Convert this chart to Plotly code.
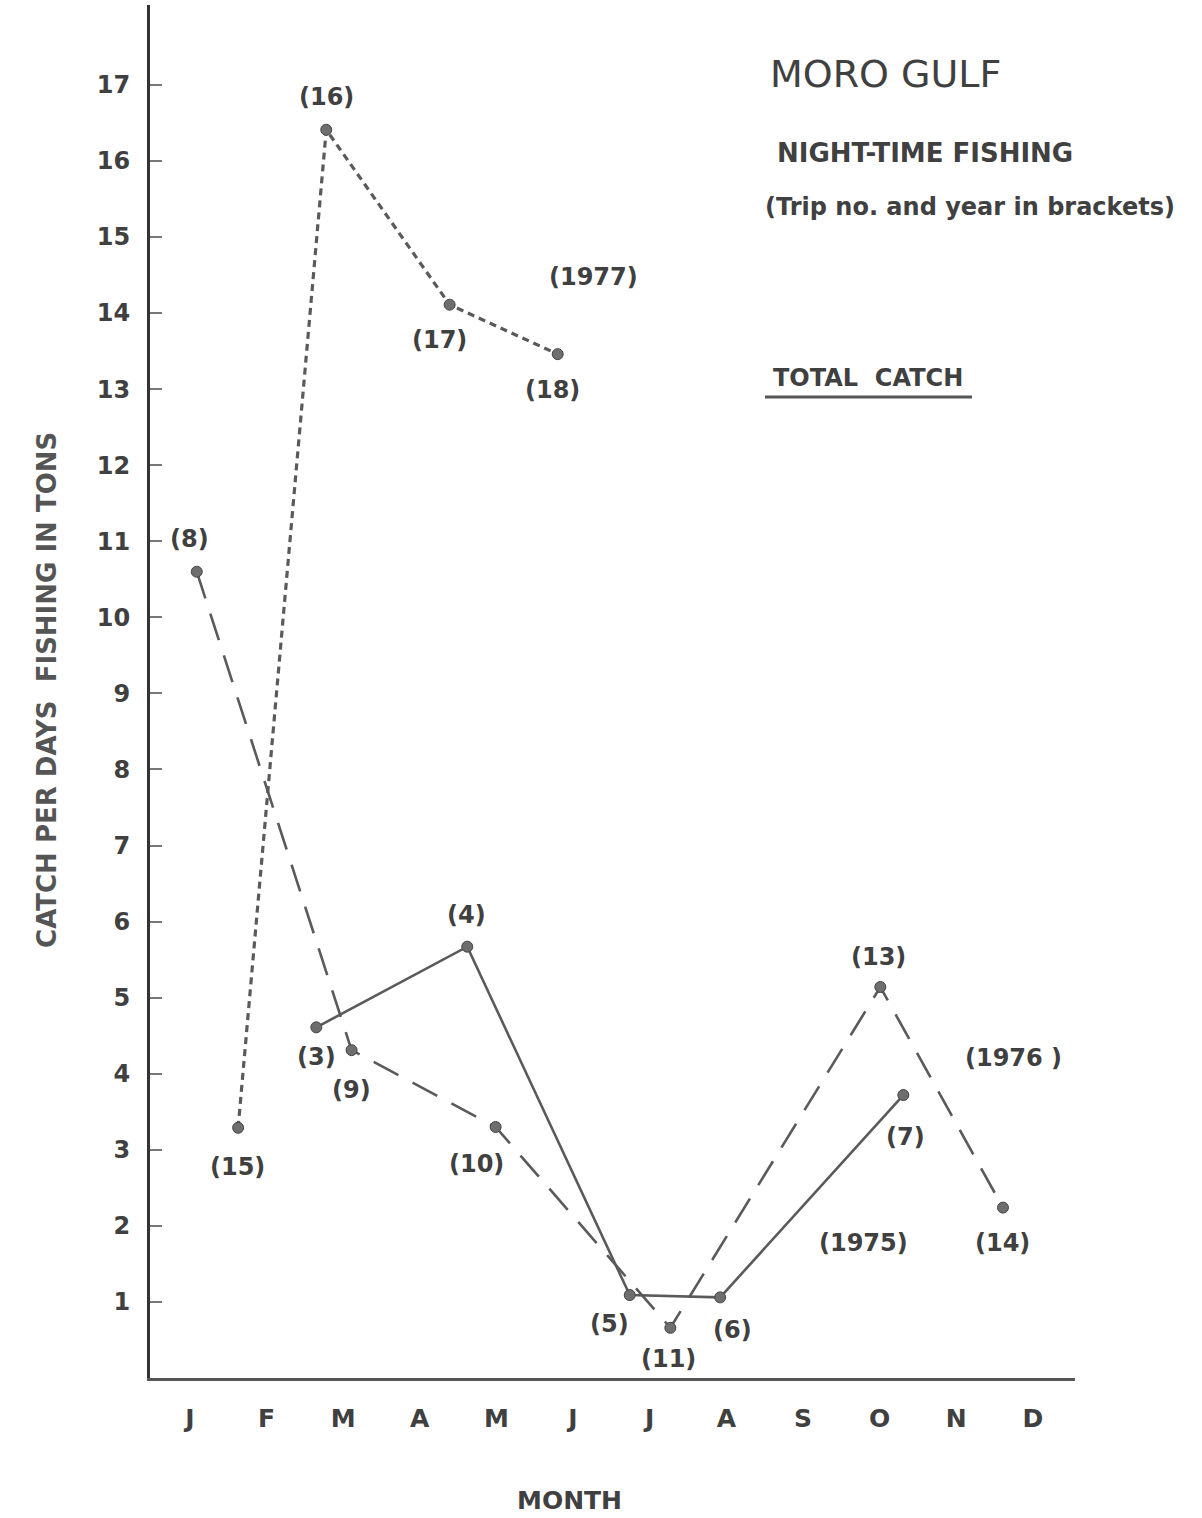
import plotly.graph_objects as go

# Month index 1..12 on the x axis
month_labels = ["J", "F", "M", "A", "M", "J", "J", "A", "S", "O", "N", "D"]
month_pos = list(range(1, 13))
y_ticks = list(range(1, 18))

# Catch per days fishing (tons), night-time fishing, Moro Gulf
trips_1975 = ["(3)", "(4)", "(5)", "(6)", "(7)"]
month_1975 = [2.65, 4.62, 6.74, 7.92, 10.31]
catch_1975 = [4.61, 5.67, 1.09, 1.06, 3.72]

trips_1976 = ["(8)", "(9)", "(10)", "(11)", "(13)", "(14)"]
month_1976 = [1.09, 3.11, 4.99, 7.27, 10.01, 11.61]
catch_1976 = [10.6, 4.31, 3.30, 0.66, 5.14, 2.24]

trips_1977 = ["(15)", "(16)", "(17)", "(18)"]
month_1977 = [1.63, 2.78, 4.39, 5.80]
catch_1977 = [3.29, 16.41, 14.11, 13.46]

FONT = "DejaVu Sans"
INK = "#404040"
LINE = "#5a5a5a"


def lettering(size, color=INK, weight="bold"):
    return dict(family=FONT, size=size, color=color, weight=weight)


fig = go.Figure()

series = [
    (month_1975, catch_1975, "solid", 2.6),
    (month_1976, catch_1976, "28px,16px", 2.6),
    (month_1977, catch_1977, "7px,5px", 3.2),
]
for xs, ys, dash, w in series:
    fig.add_trace(go.Scatter(
        x=xs, y=ys, mode="lines+markers",
        line=dict(color=LINE, width=w, dash=dash),
        marker=dict(size=11, color="#6e6e6e", line=dict(color="#444", width=1)),
        showlegend=False, hoverinfo="skip",
    ))

# Trip-number labels, offset in pixels from their points
label_shift = {
    "(3)": (0, -30), "(4)": (-1, 32), "(5)": (-20, -29), "(6)": (12, -33),
    "(7)": (2, -42), "(8)": (-7, 33), "(9)": (0, -40), "(10)": (-19, -37),
    "(11)": (-2, -31), "(13)": (-2, 30), "(14)": (0, -35), "(15)": (-1, -39),
    "(16)": (0, 33), "(17)": (-10, -35), "(18)": (-5, -36),
}
for trips, xs, ys in [(trips_1975, month_1975, catch_1975),
                      (trips_1976, month_1976, catch_1976),
                      (trips_1977, month_1977, catch_1977)]:
    for t, x, y in zip(trips, xs, ys):
        dx, dy = label_shift[t]
        fig.add_annotation(x=x, y=y, xref="x", yref="y", text=t, showarrow=False,
                           xshift=dx, yshift=dy, font=lettering(24))

# Titles and year labels
texts = [
    ("MORO GULF", 0.795, 0.950, 38, "normal"),
    ("NIGHT-TIME FISHING", 0.838, 0.892, 26, "bold"),
    ("(Trip no. and year in brackets)", 0.886, 0.853, 24, "bold"),
    ("TOTAL  CATCH", 0.776, 0.728, 24, "bold"),
    ("(1977)", 0.479, 0.802, 24, "bold"),
    ("(1976 )", 0.933, 0.233, 24, "bold"),
    ("(1975)", 0.771, 0.0983, 24, "bold"),
    ("MONTH", 0.454, -0.0889, 25, "bold"),
]
for txt, x, y, s, wt in texts:
    fig.add_annotation(x=x, y=y, xref="paper", yref="paper", text=txt, showarrow=False,
                       xanchor="center", yanchor="middle", font=lettering(s, weight=wt))

fig.add_annotation(x=-0.130, y=0.501, xref="paper", yref="paper",
                   text="CATCH PER DAYS  FISHING IN TONS", textangle=-90,
                   showarrow=False, font=lettering(26, "#555"))

# Underline under TOTAL CATCH
fig.add_shape(type="line", xref="paper", yref="paper",
              x0=(765 - 150) / 925, x1=(972 - 150) / 925,
              y0=(1378 - 397) / 1373, y1=(1378 - 397) / 1373,
              line=dict(color="#555", width=3))

fig.update_xaxes(
    range=[0.48, 12.55], tickmode="array", tickvals=month_pos, ticktext=month_labels,
    showline=True, linecolor="#555", linewidth=3, showgrid=False, zeroline=False,
    ticks="", ticklabelstandoff=16, tickfont=lettering(25),
)
fig.update_yaxes(
    range=[0, 18.05], tickmode="array", tickvals=y_ticks,
    showline=True, linecolor="#333", linewidth=3, showgrid=False, zeroline=False,
    ticks="inside", ticklen=12, tickwidth=2, tickcolor="#777",
    ticklabelstandoff=12, tickfont=lettering(24),
)
fig.update_layout(
    width=1202, height=1518,
    margin=dict(l=150, r=127, t=5, b=140),
    paper_bgcolor="white", plot_bgcolor="white",
)

fig.write_html("out.html")
